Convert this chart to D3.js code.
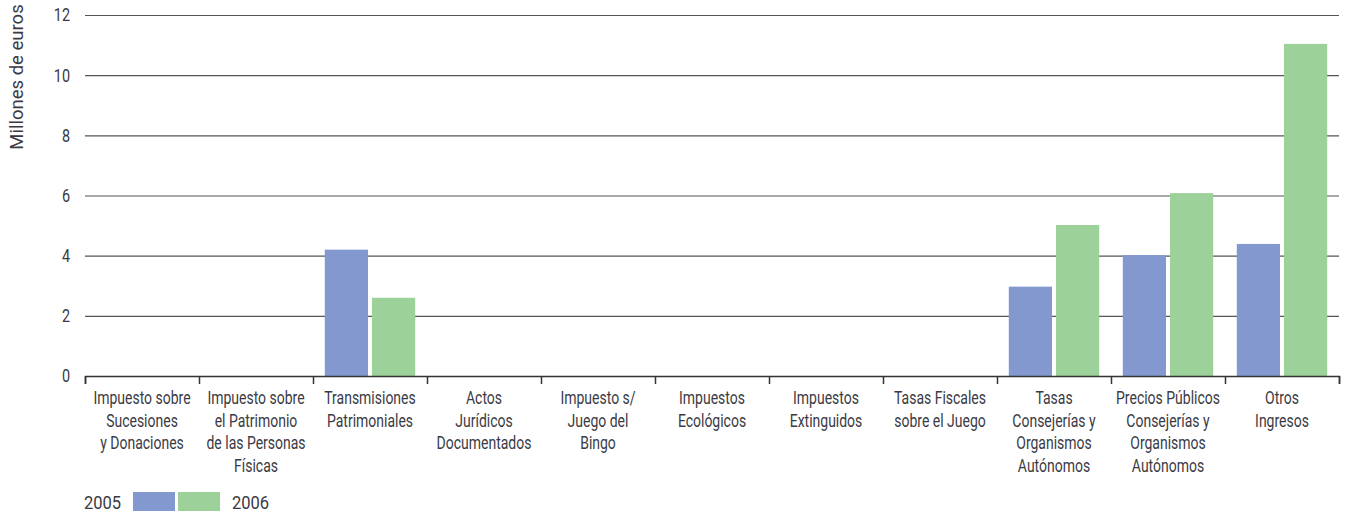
<!DOCTYPE html>
<html>
<head>
<meta charset="utf-8">
<script src="https://cdn.jsdelivr.net/npm/d3@7"></script>
<style>
  body { margin: 0; background: #fff; }
  svg { font-family: Roboto, "Liberation Sans", sans-serif; }
  .grid line { stroke: #555; stroke-width: 1.2; }
  .grid path { display: none; }
  .x-axis path, .x-axis line { stroke: #333; stroke-width: 1.5; }
  .lbl { fill: #3a3a44; }
</style>
</head>
<body>
<div id="chart"></div>
<script>
const categories = [
  ['Impuesto sobre', 'Sucesiones', 'y Donaciones'],
  ['Impuesto sobre', 'el Patrimonio', 'de las Personas', 'Físicas'],
  ['Transmisiones', 'Patrimoniales'],
  ['Actos', 'Jurídicos', 'Documentados'],
  ['Impuesto s/', 'Juego del', 'Bingo'],
  ['Impuestos', 'Ecológicos'],
  ['Impuestos', 'Extinguidos'],
  ['Tasas Fiscales', 'sobre el Juego'],
  ['Tasas', 'Consejerías y', 'Organismos', 'Autónomos'],
  ['Precios Públicos', 'Consejerías y', 'Organismos', 'Autónomos'],
  ['Otros', 'Ingresos']
]
const years = ['2005', '2006']
const values2005 = [0, 0, 4.2, 0, 0, 0, 0, 0, 2.97, 4.02, 4.39]
const values2006 = [0, 0, 2.6, 0, 0, 0, 0, 0, 5.02, 6.08, 11.04]
const yTicks = [0, 2, 4, 6, 8, 10, 12]
const colors = ['#8298cf', '#9dd19a']

const width = 1349, height = 518
const m = { left: 85, right: 1339, top: 15, bottom: 376 }
// the original type is a condensed face, so Roboto is squeezed horizontally
const squeeze = 0.8

const svg = d3.select('#chart').append('svg')
  .attr('width', width)
  .attr('height', height)

const x = d3.scaleBand()
  .domain(d3.range(categories.length))
  .range([m.left, m.right])

const xInner = d3.scaleBand()
  .domain(years)
  .range([0, x.bandwidth()])
  .paddingInner(0.085)
  .paddingOuter(0.25)

const y = d3.scaleLinear()
  .domain([0, 12])
  .range([m.bottom, m.top])

// gridlines
svg.append('g')
  .attr('class', 'grid')
  .attr('transform', `translate(${m.left},0)`)
  .call(d3.axisLeft(y).tickValues(yTicks.slice(1)).tickSize(-(m.right - m.left)).tickFormat(''))

// y tick labels
svg.append('g')
  .selectAll('text')
  .data(yTicks)
  .join('text')
  .attr('class', 'lbl')
  .attr('text-anchor', 'end')
  .attr('dy', '0.36em')
  .attr('font-size', 18)
  .attr('transform', d => `translate(${m.left - 15},${y(d)}) scale(${squeeze},1)`)
  .text(d => d)

svg.append('text')
  .attr('class', 'lbl')
  .attr('transform', `translate(23, ${m.top + 62}) rotate(-90)`)
  .attr('text-anchor', 'middle')
  .attr('font-size', 18.5)
  .text('Millones de euros')

// bars
const series = [values2005, values2006]
series.forEach((vals, si) => {
  svg.append('g')
    .selectAll('rect')
    .data(vals)
    .join('rect')
    .attr('x', (d, i) => x(i) + xInner(years[si]))
    .attr('width', xInner.bandwidth())
    .attr('y', d => y(d))
    .attr('height', d => m.bottom - y(d))
    .attr('fill', colors[si])
})

// x axis, ticks on band boundaries
const xAxisScale = d3.scaleLinear().domain([0, categories.length]).range([m.left, m.right])
svg.append('g')
  .attr('class', 'x-axis')
  .attr('transform', `translate(0,${m.bottom})`)
  .call(d3.axisBottom(xAxisScale).tickValues(d3.range(categories.length + 1)).tickSize(8).tickSizeOuter(8).tickFormat(''))

// category labels
const labels = svg.append('g')
categories.forEach((lines, i) => {
  const cx = x(i) + x.bandwidth() / 2
  const t = labels.append('text')
    .attr('class', 'lbl')
    .attr('text-anchor', 'middle')
    .attr('font-size', 17.5)
    .attr('transform', `translate(${cx},404) scale(${squeeze},1)`)
  lines.forEach((ln, k) => {
    t.append('tspan')
      .attr('x', 0)
      .attr('y', k * 22.7)
      .text(ln)
  })
})

// legend
const legend = svg.append('g')
legend.append('text').attr('class', 'lbl').attr('font-size', 19)
  .attr('transform', 'translate(84,509) scale(0.87,1)').text(years[0])
legend.append('rect').attr('x', 133).attr('y', 492).attr('width', 42).attr('height', 19).attr('fill', colors[0])
legend.append('rect').attr('x', 178).attr('y', 492).attr('width', 42).attr('height', 19).attr('fill', colors[1])
legend.append('text').attr('class', 'lbl').attr('font-size', 19)
  .attr('transform', 'translate(232,509) scale(0.87,1)').text(years[1])
</script>
</body>
</html>
